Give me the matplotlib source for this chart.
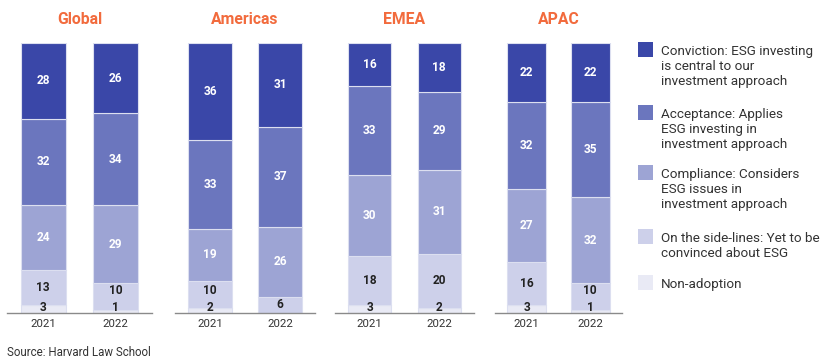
import matplotlib
matplotlib.use("Agg")
import matplotlib.pyplot as plt
from matplotlib.patches import Rectangle

plt.rcParams['font.family'] = ['Roboto', 'DejaVu Sans']

regions = ["Global", "Americas", "EMEA", "APAC"]
years = ["2021", "2022"]
categories = [
    "Conviction: ESG investing\nis central to our\ninvestment approach",
    "Acceptance: Applies\nESG investing in\ninvestment approach",
    "Compliance: Considers\nESG issues in\ninvestment approach",
    "On the side-lines: Yet to be\nconvinced about ESG",
    "Non-adoption",
]
# values per region: [2021, 2022]
conviction = [[28, 26], [36, 31], [16, 18], [22, 22]]
acceptance = [[32, 34], [33, 37], [33, 29], [32, 35]]
compliance = [[24, 29], [19, 26], [30, 31], [27, 32]]
sidelines = [[13, 10], [10, 6], [18, 20], [16, 10]]
nonadoption = [[3, 1], [2, 0], [3, 2], [3, 1]]
source = "Source: Harvard Law School"

colors = ["#3A47A8", "#6B76BE", "#9DA4D4", "#CDD0EA", "#E9EAF5"]
label_colors = ["white", "white", "white", "#222222", "#222222"]
title_color = "#F26B3D"

W, H = 830, 360
fig = plt.figure(figsize=(W / 100, H / 100), dpi=100)

panels_px = [(7, 152), (175, 315), (335, 474), (495, 622)]
y_bot, y_top = 313, 43

series_top_down = [conviction, acceptance, compliance, sidelines, nonadoption]
series_bottom_up = list(reversed(series_top_down))
colors_bu = list(reversed(colors))
lcolors_bu = list(reversed(label_colors))

for ri, region in enumerate(regions):
    l, r = panels_px[ri]
    ax = fig.add_axes([l / W, (H - y_bot) / H, (r - l) / W, (y_bot - y_top) / H])
    ax.set_xlim(-0.5, 1.5)
    ax.set_ylim(0, 100)
    xs = [0, 1]
    bottoms = [0, 0]
    prev_label_y = [None, None]
    for si, ser in enumerate(series_bottom_up):
        vals = ser[ri]
        ax.bar(xs, vals, width=0.62, bottom=bottoms, color=colors_bu[si],
               edgecolor="#DCDFF0", linewidth=0.8, zorder=2)
        for xi in range(2):
            v = vals[xi]
            if v > 0:
                yc = bottoms[xi] + v / 2
                if v < 4:
                    yc = max(yc, 2.0)
                if prev_label_y[xi] is not None:
                    yc = max(yc, prev_label_y[xi] + 6.5)
                ax.text(xs[xi], yc, str(v), ha="center", va="center",
                        color=lcolors_bu[si], fontsize=8.6, fontweight="bold", zorder=3)
                prev_label_y[xi] = yc
        bottoms = [bottoms[k] + vals[k] for k in range(2)]
    for s in ["top", "left", "right"]:
        ax.spines[s].set_visible(False)
    ax.spines["bottom"].set_color("#8A8A8A")
    ax.spines["bottom"].set_linewidth(1.0)
    ax.spines["bottom"].set_zorder(4)
    ax.set_yticks([])
    ax.set_xticks(xs)
    ax.set_xticklabels(years, fontsize=8.2, color="#333333")
    ax.tick_params(axis="x", length=0, pad=4)
    fig.text((l + r) / 2 / W, 1 - 19 / H, region, ha="center", va="center",
             fontsize=11.3, fontweight="bold", color=title_color)

# legend
leg_tops = [42, 105, 165, 229, 275]
for i, cat in enumerate(categories):
    top = leg_tops[i]
    fig.patches.append(Rectangle((638 / W, 1 - (top + 15) / H), 15 / W, 15 / H,
                                 transform=fig.transFigure, facecolor=colors[i],
                                 edgecolor="none"))
    fig.text(661 / W, 1 - (top + 3) / H, cat, ha="left", va="top", fontsize=9.7,
             color="#333333", linespacing=1.22)

fig.text(7 / W, 1 - 353 / H, source, ha="left", va="center", fontsize=8.3, color="#333333")

fig.savefig("out.png", dpi=100)
